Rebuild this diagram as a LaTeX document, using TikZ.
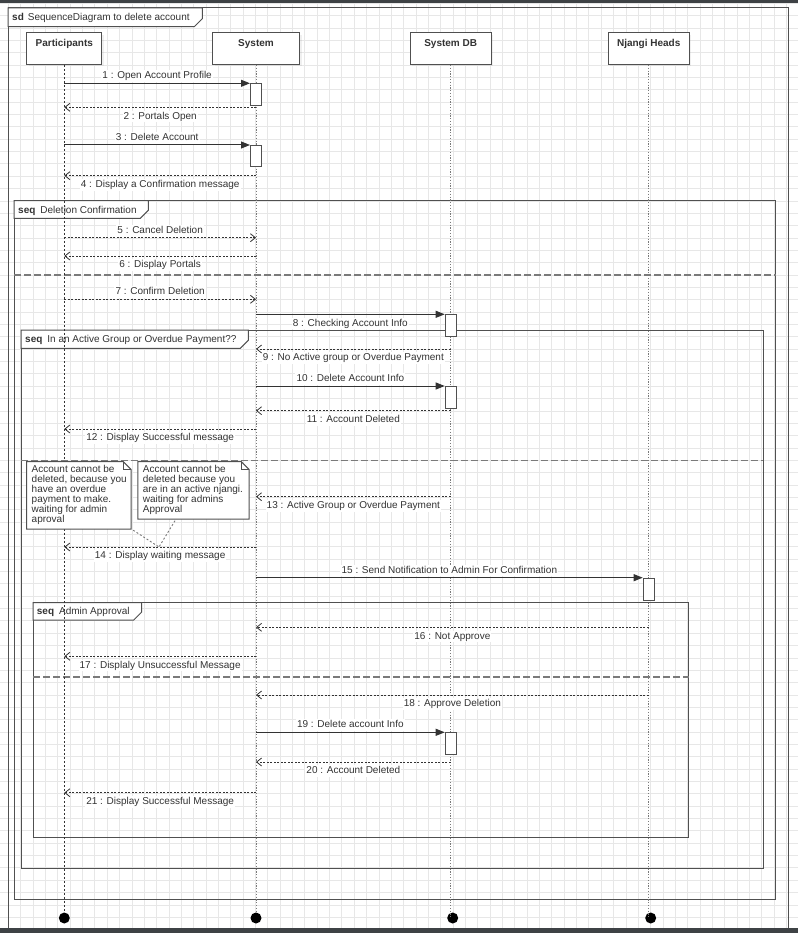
\documentclass[tikz,border=0pt]{standalone}
\usepackage{fontspec}
\setmainfont{Liberation Sans}
\usetikzlibrary{arrows.meta,shadows}
\definecolor{ink}{HTML}{333333}
\definecolor{edge}{HTML}{505050}
\definecolor{gridc}{HTML}{E7E7E7}
\definecolor{band}{HTML}{3E4245}
\definecolor{life}{HTML}{7A7A7A}

% pentagon tag in the top left corner of a frame: x1,y1,x2,y2
\newcommand\fragtag[4]{%
  \draw[tagline] (#1,#2) -- (#3,#2) -- (#3,#4-8) -- (#3-8,#4) -- (#1,#4) -- cycle;}

\begin{document}
\begin{tikzpicture}[x=1pt,y=-1pt,
  every node/.style={font=\fontsize{10}{10}\selectfont, text=ink},
  gridline/.style={draw=gridc, line width=0.7pt},
  head/.style={draw=edge, fill=white, line width=1pt, minimum width=#1,
    minimum height=31.5pt, inner sep=0pt,
    drop shadow={opacity=0.12, shadow xshift=2pt, shadow yshift=-2pt}},
  headtext/.style={font=\fontsize{10}{10}\selectfont\bfseries, anchor=base, inner sep=0pt},
  lifeline/.style={draw=life, line width=1pt, dash pattern=on 1.2pt off 1.6pt},
  firstline/.style={draw=ink, line width=0.8pt, dash pattern=on 2pt off 2pt},
  enddot/.style={circle, fill=black, minimum size=11pt, inner sep=0pt},
  act/.style={draw=edge, fill=white, line width=1pt, minimum width=11pt,
    minimum height=#1, inner sep=0pt, anchor=north},
  sync/.style={draw=ink, line width=1pt, -{Triangle[length=9pt,width=7pt]}},
  reply/.style={draw=ink, line width=0.8pt, dash pattern=on 2pt off 1.5pt,
    -{Straight Barb[length=5pt,width=8pt,line width=0.8pt]}},
  lblup/.style={midway, fill=white, inner sep=1.2pt, text height=7.5pt, text depth=2pt, above=0.8pt},
  lbldown/.style={midway, fill=white, inner sep=1pt, text height=7.5pt, text depth=2pt, below=3pt},
  frameline/.style={draw=edge, line width=1pt},
  sepline/.style={draw=life, line width=1.1pt, dash pattern=on 7pt off 3pt},
  tagline/.style={draw=edge, fill=white, line width=1pt},
  tagtext/.style={anchor=base west, inner sep=0pt},
  notebody/.style={draw=edge, fill=white, line width=1pt},
  notetext/.style={anchor=north west, inner sep=0pt, align=left},
  noteline/.style={draw=life, line width=0.9pt, dash pattern=on 2pt off 2pt},
]
\useasboundingbox (0,0) rectangle (798,933);

% background grid
\foreach \k in {0,...,63} \draw[gridline] ({8.35+\k*12.35},3) -- ({8.35+\k*12.35},928);
\foreach \k in {0,...,74} \draw[gridline] (0,{3.3+\k*12.35}) -- (798,{3.3+\k*12.35});

% outer sd frame
\draw[frameline] (8,930) -- (8,8) -- (788,8) -- (788,930);
\fragtag{8}{8}{202.3}{26.7}
\node[tagtext] at (12,21) {\textbf{sd}\hspace{4pt}SequenceDiagram to delete account};

% combined fragments
\draw[frameline] (14,200.7) rectangle (775.7,899);
\draw[sepline] (14,275) -- (775.7,275);
\fragtag{14}{200.7}{148.3}{218.3}
\node[tagtext] at (18,213.5) {\textbf{seq}\hspace{5pt}Deletion Confirmation};

\draw[frameline] (21,330) rectangle (763,868);
\draw[sepline] (21,460.7) -- (763,460.7);
\fragtag{21}{330}{248.3}{348.3}
\node[tagtext] at (25,342.5) {\textbf{seq}\hspace{5pt}In an Active Group or Overdue Payment??};

\draw[frameline] (33,602.7) rectangle (688.7,837);
\draw[sepline] (33,677) -- (688.7,677);
\fragtag{33}{602.7}{141.7}{620}
\node[tagtext] at (36.7,614.5) {\textbf{seq}\hspace{5pt}Admin Approval};

% participants
\node[head=75pt]   (P) at (64.3,48.7)  {};
\node[head=87pt]   (S) at (256,48.7)   {};
\node[head=80.7pt] (D) at (450.7,48.7) {};
\node[head=81pt]   (N) at (648.7,48.7) {};
\node[headtext] at ([yshift=-13.7pt]P.north) {Participants};
\node[headtext] at ([yshift=-13.7pt]S.north) {System};
\node[headtext] at ([yshift=-13.7pt]D.north) {System DB};
\node[headtext] at ([yshift=-13.7pt]N.north) {Njangi Heads};

% message rows
\foreach \n/\y in {m1/83.3, m2/107.3, m3/145, m4/175.7, m5/237.7, m6/256, m7/299.3,
  m8/314.3, m9/349, m10/386, m11/410.7, m12/429, m13/496.7, m14/547, m15/577.7,
  m16/627.3, m17/656.3, m18/695, m19/732.3, m20/762, m21/792.7, fin/918}
  \coordinate (\n) at (0,\y);

% lifelines and their ends
\node[enddot] (eP) at (P |- fin) {};
\node[enddot] (eS) at (S |- fin) {};
\node[enddot] (eD) at ([xshift=2pt]D |- fin) {};
\node[enddot] (eN) at ([xshift=2pt]N |- fin) {};
\draw[firstline] (P.south) -- (eP);
\draw[lifeline] (S.south) -- (eS);
\draw[lifeline] (D.south) -- (D |- eD.center);
\draw[lifeline] (N.south) -- (N |- eN.center);

% execution specifications
\node[act=21.3pt] (a1) at (S |- m1) {};
\node[act=21.5pt] (a2) at (S |- m3) {};
\node[act=21.7pt] (a3) at (D |- m8) {};
\node[act=22.3pt] (a4) at (D |- m10) {};
\node[act=21.8pt] (a5) at (N |- m15) {};
\node[act=21.7pt] (a6) at (D |- m19) {};

% messages
\draw[sync]  (P |- m1) -- (a1.north west) node[lblup] {1 : Open Account Profile};
\draw[reply] (S |- m2) -- (P |- m2) node[lbldown] {2 : Portals Open};
\draw[sync]  (P |- m3) -- (a2.north west) node[lblup] {3 : Delete Account};
\draw[reply] (S |- m4) -- (P |- m4) node[lbldown] {4 : Display a Confirmation message};
\draw[reply] (P |- m5) -- (S |- m5) node[lblup] {5 : Cancel Deletion};
\draw[reply] (S |- m6) -- (P |- m6) node[lbldown] {6 : Display Portals};
\draw[reply] (P |- m7) -- (S |- m7) node[lblup] {7 : Confirm Deletion};
\draw[sync]  (S |- m8) -- (a3.north west) node[lbldown] {8 : Checking Account Info};
\draw[reply] (D |- m9) -- (S |- m9) node[lbldown] {9 : No Active group or Overdue Payment};
\draw[sync]  (S |- m10) -- (a4.north west) node[lblup] {10 : Delete Account Info};
\draw[reply] (D |- m11) -- (S |- m11) node[lbldown] {11 : Account Deleted};
\draw[reply] (S |- m12) -- (P |- m12) node[lbldown] {12 : Display Successful message};
\draw[reply] (D |- m13) -- (S |- m13) node[lbldown] {13 : Active Group or Overdue Payment};

% notes attached to message 14
\coordinate (w14) at (159,547);
\node (n1) at (78.85,495.35) [minimum width=104.3pt, minimum height=67.3pt, inner sep=0pt] {};
\node (n2) at (193.5,490.35) [minimum width=111pt, minimum height=57.3pt, inner sep=0pt] {};
\draw[noteline] ([xshift=2pt,yshift=-1pt]n1.south east) -- (w14);
\draw[noteline] ([xshift=-18.5pt,yshift=-1.5pt]n2.south) -- (w14);

\draw[reply] (S |- m14) -- (P |- m14) node[lbldown] {14 : Display waiting message};

\foreach \nn in {n1,n2} {
  \draw[notebody] (\nn.south west) -- (\nn.north west) -- ([xshift=-8pt]\nn.north east)
    -- ([yshift=-8pt]\nn.north east) -- (\nn.south east) -- cycle;
  \draw[draw=edge, line width=1pt] ([xshift=-8pt]\nn.north east) -- ([xshift=-8pt,yshift=-8pt]\nn.north east)
    -- ([yshift=-8pt]\nn.north east);
}
\node[notetext] at (31.5,464.7) {Account cannot be\\deleted, because you\\have an overdue\\payment to make.\\waiting for admin\\aproval};
\node[notetext] at (142.7,464.7) {Account cannot be\\deleted because you\\are in an active njangi.\\waiting for admins\\Approval};

\draw[sync]  (S |- m15) -- (a5.north west) node[lblup] {15 : Send Notification to Admin For Confirmation};
\draw[reply] (N |- m16) -- (S |- m16) node[lbldown] {16 : Not Approve};
\draw[reply] (S |- m17) -- (P |- m17) node[lbldown] {17 : Displaly Unsuccessful Message};
\draw[reply] (N |- m18) -- (S |- m18) node[lbldown] {18 : Approve Deletion};
\draw[sync]  (S |- m19) -- (a6.north west) node[lblup] {19 : Delete account Info};
\draw[reply] (D |- m20) -- (S |- m20) node[lbldown] {20 : Account Deleted};
\draw[reply] (S |- m21) -- (P |- m21) node[lbldown] {21 : Display Successful Message};

% window edges
\fill[band] (0,0) rectangle (798,3);
\fill[band] (0,928.3) rectangle (798,933);
\end{tikzpicture}
\end{document}
